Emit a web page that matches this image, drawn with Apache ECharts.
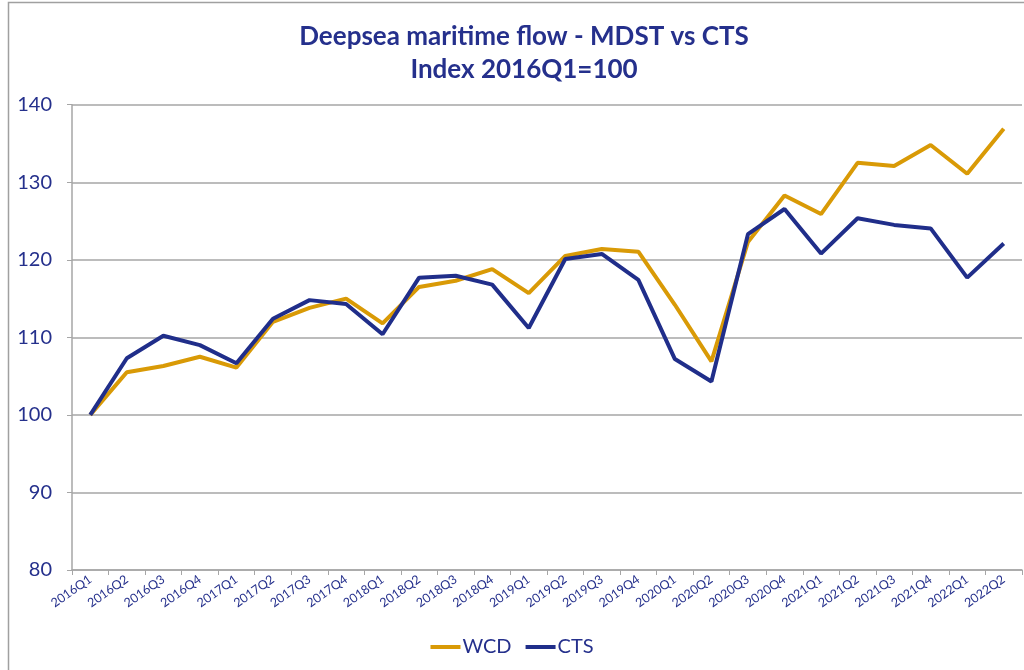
<!DOCTYPE html>
<html>
<head>
<meta charset="utf-8">
<script src="https://cdn.jsdelivr.net/npm/echarts@6/dist/echarts.min.js"></script>
<style>
  html, body { margin: 0; padding: 0; background: #fff; }
  #main { width: 1024px; height: 670px; }
</style>
</head>
<body>
<div id="main"></div>
<script>
// quarters on the x axis
var quarters = ['2016Q1', '2016Q2', '2016Q3', '2016Q4', '2017Q1', '2017Q2', '2017Q3', '2017Q4',
  '2018Q1', '2018Q2', '2018Q3', '2018Q4', '2019Q1', '2019Q2', '2019Q3', '2019Q4',
  '2020Q1', '2020Q2', '2020Q3', '2020Q4', '2021Q1', '2021Q2', '2021Q3', '2021Q4',
  '2022Q1', '2022Q2'];
// index values
var wcd = [100, 105.5, 106.3, 107.5, 106.1, 112.0, 113.8, 115.0,
  111.8, 116.5, 117.3, 118.8, 115.7, 120.5, 121.4, 121.05,
  114.2, 106.9, 122.3, 128.3, 125.9, 132.5, 132.1, 134.8,
  131.1, 136.9];
var cts = [100, 107.3, 110.2, 109.0, 106.65, 112.4, 114.8, 114.3,
  110.4, 117.7, 117.95, 116.8, 111.2, 120.1, 120.75, 117.4,
  107.2, 104.3, 123.3, 126.55, 120.8, 125.35, 124.5, 124.05,
  117.7, 122.1];
var yTicks = { min: 80, max: 140, interval: 10 };

var navy = '#25308C';
var gridGray = '#A6A6A6';

var myChart = echarts.init(document.getElementById('main'));
var option = {
  backgroundColor: '#fff',
  animation: false,
  // frame around the chart area
  graphic: [{
    type: 'rect',
    shape: { x: 8.5, y: 2.5, width: 1100, height: 1000 },
    style: { fill: 'none', stroke: '#A0A0A0', lineWidth: 1.5 },
    silent: true
  }],
  title: {
    text: 'Deepsea maritime flow - MDST vs CTS\nIndex 2016Q1=100',
    left: 519,
    textAlign: 'center',
    top: 15,
    textStyle: {
      fontFamily: 'Lato',
      fontWeight: 'bold',
      fontSize: 26,
      lineHeight: 33,
      color: navy
    }
  },
  legend: {
    bottom: 8,
    left: 'center',
    itemWidth: 30,
    itemHeight: 4,
    itemGap: 14,
    icon: 'rect',
    textStyle: { fontFamily: 'Lato', fontSize: 20, color: navy, padding: [0, 0, 0, -3] },
    data: ['WCD', 'CTS']
  },
  grid: {
    left: 72,
    right: 2,
    top: 104.7,
    bottom: 100,
    containLabel: false
  },
  xAxis: {
    type: 'category',
    data: quarters,
    boundaryGap: true,
    axisLine: { lineStyle: { color: gridGray, width: 1.5 } },
    axisTick: { show: true, alignWithLabel: false, length: 5, lineStyle: { color: gridGray } },
    axisLabel: {
      interval: 0,
      rotate: 35,
      margin: 8,
      fontFamily: 'Lato',
      fontSize: 12.5,
      color: navy
    }
  },
  yAxis: {
    type: 'value',
    min: yTicks.min,
    max: yTicks.max,
    interval: yTicks.interval,
    axisLine: { show: true, lineStyle: { color: gridGray, width: 1.5 } },
    axisTick: { show: true, length: 5, lineStyle: { color: gridGray } },
    axisLabel: {
      margin: 20,
      fontFamily: 'Lato',
      fontSize: 20,
      color: navy
    },
    splitLine: { lineStyle: { color: gridGray, width: 1.5 } }
  },
  series: [
    {
      name: 'WCD',
      type: 'line',
      data: wcd,
      symbol: 'none',
      color: '#D99A06',
      lineStyle: { width: 4, color: '#D99A06' }
    },
    {
      name: 'CTS',
      type: 'line',
      data: cts,
      symbol: 'none',
      color: '#202E8A',
      lineStyle: { width: 4, color: '#202E8A' }
    }
  ]
};
myChart.setOption(option);
</script>
</body>
</html>
